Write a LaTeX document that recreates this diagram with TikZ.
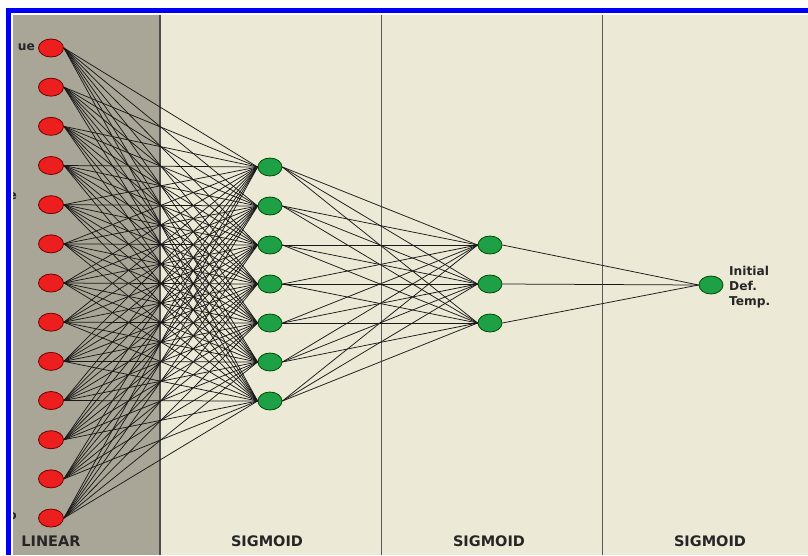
\documentclass[tikz,border=0pt]{standalone}
\usepackage{fontspec}
\setmainfont{DejaVu Sans}
\usetikzlibrary{shapes.geometric}
\definecolor{panelgray}{RGB}{170,166,151}
\definecolor{beige}{RGB}{236,233,214}
\definecolor{frameblue}{RGB}{0,0,250}
\definecolor{nodered}{RGB}{236,30,30}
\definecolor{nodegreen}{RGB}{30,160,70}
\tikzset{
  innode/.style={ellipse, draw=red!45!black, line width=0.8pt, fill=nodered, minimum width=25pt, minimum height=18pt, inner sep=0pt},
  hidnode/.style={ellipse, draw=green!30!black, line width=0.8pt, fill=nodegreen, minimum width=24pt, minimum height=18pt, inner sep=0pt},
  edge/.style={black!90, line width=0.75pt},
  laylabel/.style={font=\bfseries\fontsize{14.5}{16}\selectfont, text=black!85},
  sidelabel/.style={font=\bfseries\fontsize{12.2}{15}\selectfont, text=black!85, align=left, inner sep=0pt}
}
\begin{document}
\begin{tikzpicture}[x=1pt,y=-1pt]
\useasboundingbox (0,0) rectangle (808,555);
\fill[white] (0,0) rectangle (808,555);
\fill[frameblue] (6,8) rectangle (808,13);
\fill[frameblue] (6,8) rectangle (11,555);
\fill[panelgray] (13,15) rectangle (160,555);
\fill[beige] (160,15) rectangle (808,555);
\draw[black!65, line width=0.7pt] (381,15) -- (381,555);
\draw[black!65, line width=0.7pt] (602,15) -- (602,555);
\draw[black!70, line width=2pt] (160,15) -- (160,555);
% cut-off input labels
\begin{scope}
\clip (13,15) rectangle (160,555);
\node[sidelabel, anchor=east] (lab0) at (35,47) {ue};
\node[sidelabel, anchor=east] (lab1) at (17,196) {e};
\node[sidelabel, anchor=east] (lab2) at (17,516) {o};
\end{scope}
% nodes
\foreach \i in {0,...,12} {
  \node[innode] (in\i) at (51,{48+39.17*\i}) {};
}
\foreach \j in {0,...,6} {
  \node[hidnode] (ha\j) at (270,{167+39*\j}) {};
}
\foreach \k in {0,1,2} {
  \node[hidnode] (hb\k) at (490,{245+39*\k}) {};
}
\node[hidnode] (out) at (711,285) {};
% edges
\foreach \i in {0,...,12} {
  \foreach \j in {0,...,6} {
    \draw[edge] (in\i.east) -- (ha\j.west);
  }
}
\foreach \j in {0,...,6} {
  \foreach \k in {0,1,2} {
    \draw[edge] (ha\j.east) -- (hb\k.west);
  }
}
\foreach \k in {0,1,2} {
  \draw[edge] (hb\k.east) -- (out.west);
}
% output label
\node[sidelabel, anchor=west] (outlab) at (729,287) {Initial\\Def.\\Temp.};
% layer labels
\node[laylabel] (l1) at (51,541) {LINEAR};
\node[laylabel] (l2) at (267,541) {SIGMOID};
\node[laylabel] (l3) at (489,541) {SIGMOID};
\node[laylabel] (l4) at (710,541) {SIGMOID};
\end{tikzpicture}
\end{document}
